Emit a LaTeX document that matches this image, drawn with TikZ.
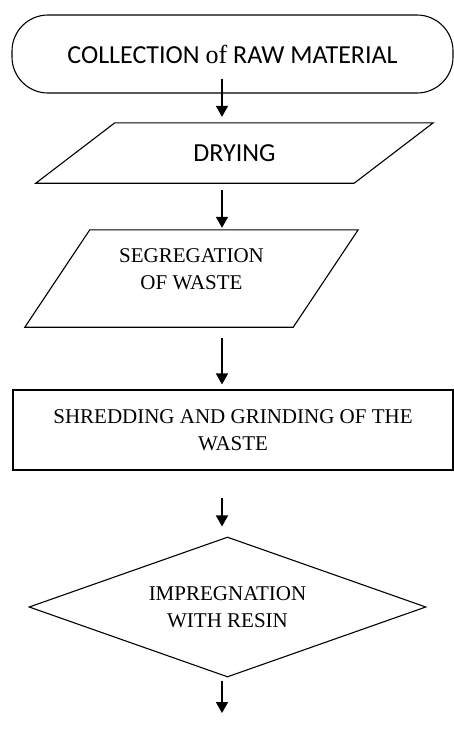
\documentclass[tikz,border=0pt]{standalone}
\usepackage{fontspec}
\setmainfont{Liberation Serif}
\newfontfamily\calibri{Carlito}
\usetikzlibrary{arrows.meta, shapes.geometric}

\begin{document}
\begin{tikzpicture}[
    x=1pt, y=-1pt,
    font=\fontsize{21}{27}\selectfont,
    term/.style={rectangle, rounded corners=36pt, draw, line width=1.1pt, minimum width=441pt, minimum height=78pt, align=center, font=\calibri\fontsize{26}{30}\selectfont},
    dataio/.style={rectangle, inner sep=0pt, align=center},
    slanted/.style={line width=1.1pt, line join=miter},
    process/.style={rectangle, draw, line width=1.1pt, minimum width=440pt, minimum height=80pt, align=center},
    decision/.style={diamond, draw, line width=1.1pt, aspect=2.8, inner sep=0pt, minimum width=397pt, minimum height=140pt, align=center},
    arrow/.style={-{Triangle[length=11pt, width=12pt]}, line width=1.6pt}
]
\useasboundingbox (0,0) rectangle (454,729);
\coordinate (axis) at (222,0);

\node[term] (collect) at (232.5,54) {COLLECTION {\rmfamily of} RAW MATERIAL};
\node[dataio, minimum width=397pt, minimum height=60pt, font=\calibri\fontsize{26}{30}\selectfont] (dry) at (234.5,153) {DRYING};
\node[dataio, minimum width=333pt, minimum height=97pt] (segregate) at (191.5,282.5) {SEGREGATION\\OF WASTE\\\mbox{}};
\node[process] (shred) at (233,430) {SHREDDING AND GRINDING OF THE\\WASTE};
\node[decision] (impregnate) at (227.5,607) {IMPREGNATION\\WITH RESIN};
\coordinate (next) at (222,713);

% parallelogram outlines
\draw[slanted] (dry.south west) -- ([xshift=79pt]dry.north west) -- (dry.north east) -- ([xshift=-79pt]dry.south east) -- cycle;
\draw[slanted] ([yshift=4pt]segregate.south west) -- ([xshift=65pt,yshift=4pt]segregate.north west) -- ([yshift=4pt]segregate.north east) -- ([xshift=-65pt,yshift=4pt]segregate.south east) -- cycle;

\draw[arrow, shorten <=-15pt, shorten >=6pt] (collect.south -| axis) -- (dry.north -| axis);
\draw[arrow, shorten <=7pt, shorten >=6pt] (dry.south -| axis) -- (segregate.north -| axis);
\draw[arrow, shorten <=7pt, shorten >=5pt] (segregate.south -| axis) -- (shred.north -| axis);
\draw[arrow, shorten <=27pt, shorten >=10pt] (shred.south -| axis) -- (impregnate.north -| axis);
\draw[arrow, shorten <=3pt] (impregnate.south -| axis) -- (next);
\end{tikzpicture}
\end{document}
